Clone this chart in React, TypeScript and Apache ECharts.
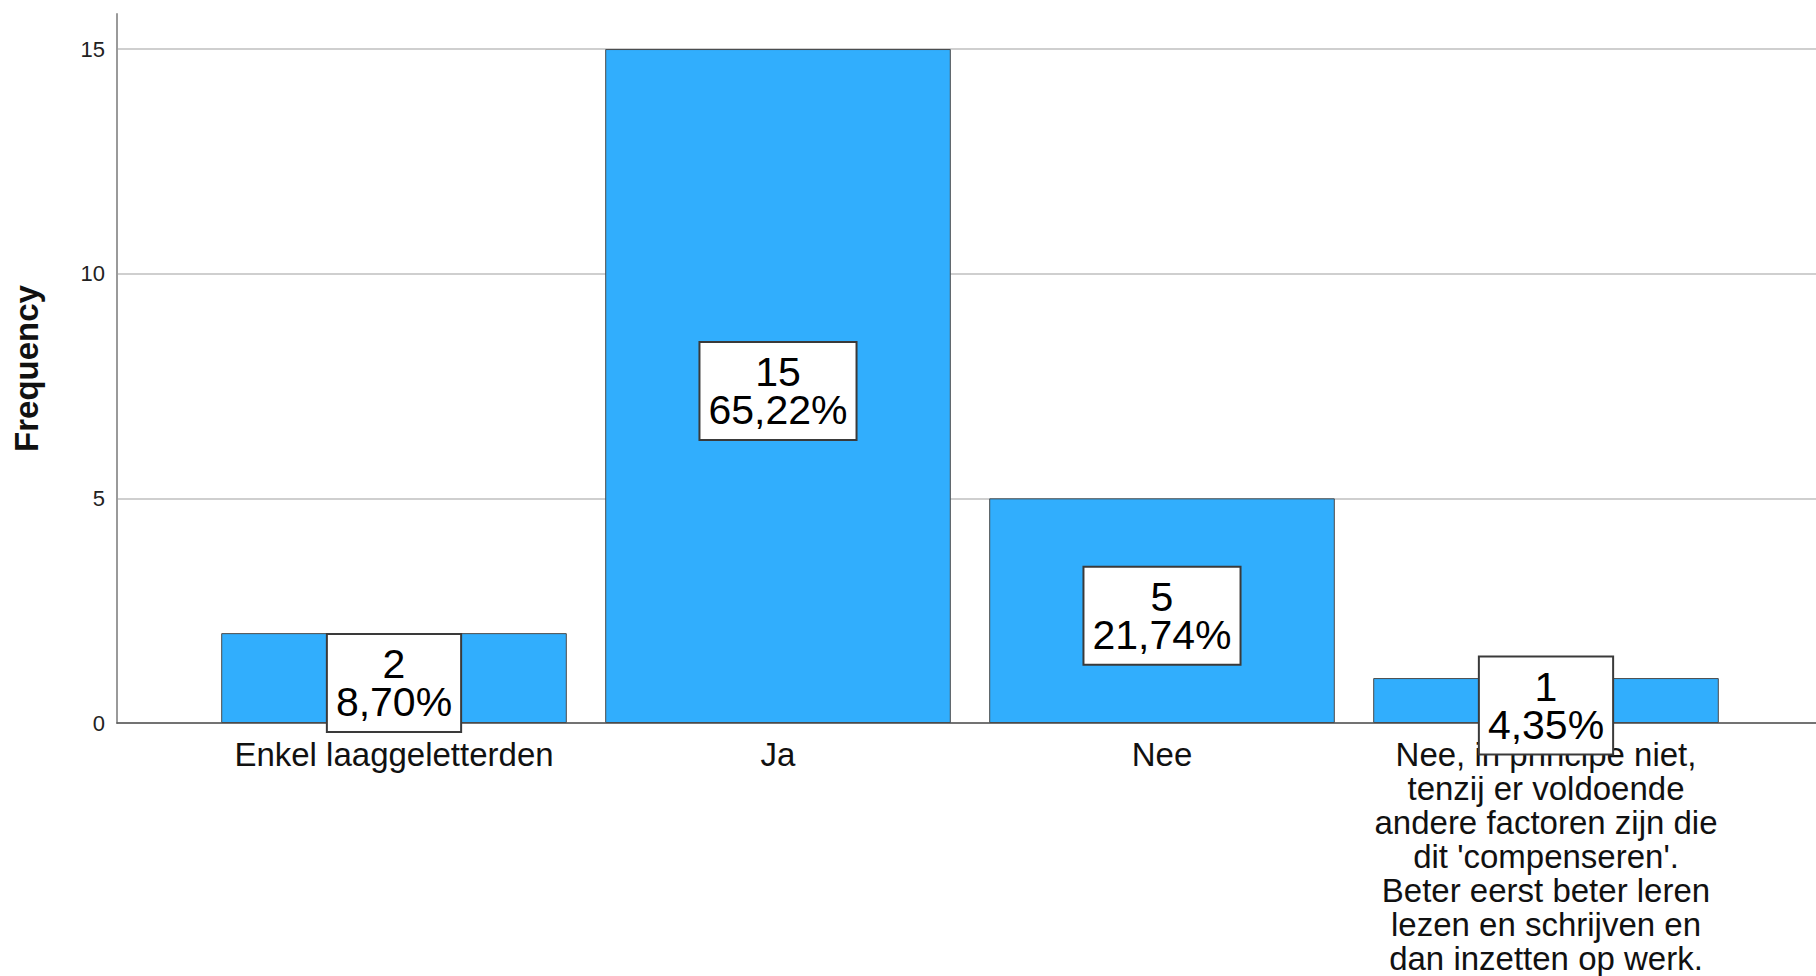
import React, { useEffect, useRef } from "react";
import * as echarts from "echarts";

const categories = [
  "Enkel laaggeletterden",
  "Ja",
  "Nee",
  "Nee, in principe niet,\ntenzij er voldoende\nandere factoren zijn die\ndit 'compenseren'.\nBeter eerst beter leren\nlezen en schrijven en\ndan inzetten op werk.",
];
const frequencies = [2, 15, 5, 1];
const percentages = ["8,70%", "65,22%", "21,74%", "4,35%"];
const yTicks = [0, 5, 10, 15];
const yAxisTitle = "Frequency";

const Y_MAX = 15.78;
const FONT = "'Liberation Sans', Arial, sans-serif";

export default function App() {
  const ref = useRef<HTMLDivElement>(null);
  useEffect(() => {
    document.body.style.margin = "0";
    if (!ref.current) return;
    const chart = echarts.init(ref.current, null, { renderer: "svg" });
    const top = 14;
    const bottom = 976 - 723;
    chart.setOption({
      animation: false,
      backgroundColor: "#ffffff",
      textStyle: { fontFamily: FONT },
      grid: [
        { left: 117, top, width: 1706, bottom, containLabel: false, outerBoundsMode: "none" },
        { left: 202, top, width: 1536, bottom, containLabel: false, outerBoundsMode: "none" },
      ],
      xAxis: [
        {
          type: "value",
          gridIndex: 0,
          min: 0,
          max: 1,
          axisLine: { show: true, lineStyle: { color: "#555555", width: 1.5 } },
          axisTick: { show: false },
          axisLabel: { show: false },
          splitLine: { show: false },
        },
        {
          type: "category",
          gridIndex: 1,
          data: categories,
          axisLine: { show: false },
          axisTick: { show: false },
          splitLine: { show: false },
          axisLabel: {
            interval: 0,
            margin: 14,
            color: "#111111",
            fontFamily: FONT,
            fontSize: 33,
            lineHeight: 34,
            align: "center",
          },
        },
      ],
      yAxis: [
        {
          type: "value",
          gridIndex: 0,
          min: 0,
          max: Y_MAX,
          interval: 5,
          name: yAxisTitle,
          nameLocation: "middle",
          nameGap: 74,
          nameRotate: 90,
          nameTextStyle: {
            fontFamily: FONT,
            fontSize: 33,
            fontWeight: "bold",
            color: "#111111",
          },
          axisLine: { show: true, lineStyle: { color: "#9a9a9a", width: 2 } },
          axisTick: { show: false },
          axisLabel: {
            margin: 12,
            fontSize: 22,
            color: "#222222",
            fontFamily: FONT,
            showMaxLabel: false,
            formatter: (v: number) => (yTicks.includes(v) ? String(v) : ""),
          },
          splitLine: {
            show: true,
            showMaxLine: false,
            lineStyle: { color: "#cfcfcf", width: 2 },
          },
        },
        {
          type: "value",
          gridIndex: 1,
          min: 0,
          max: Y_MAX,
          interval: 5,
          show: false,
          splitLine: { show: false },
        },
      ],
      series: [
        {
          type: "bar",
          xAxisIndex: 1,
          yAxisIndex: 1,
          data: frequencies,
          barCategoryGap: "10%",
          itemStyle: {
            color: "#31aefd",
            borderColor: "#4a4a4a",
            borderWidth: 1,
          },
          label: {
            show: true,
            position: "inside",
            offset: [0, 5],
            formatter: (p: any) =>
              `${frequencies[p.dataIndex]}\n${percentages[p.dataIndex]}`,
            fontFamily: FONT,
            fontSize: 41,
            lineHeight: 38,
            color: "#000000",
            backgroundColor: "#ffffff",
            borderColor: "#3a3a3a",
            borderWidth: 2,
            padding: [11, 8, 9, 8],
            align: "center",
          },
        },
      ],
    });
    return () => chart.dispose();
  }, []);
  return (
    <div
      ref={ref}
      style={{ position: "fixed", left: 0, top: 0, width: 1816, height: 976 }}
    />
  );
}
